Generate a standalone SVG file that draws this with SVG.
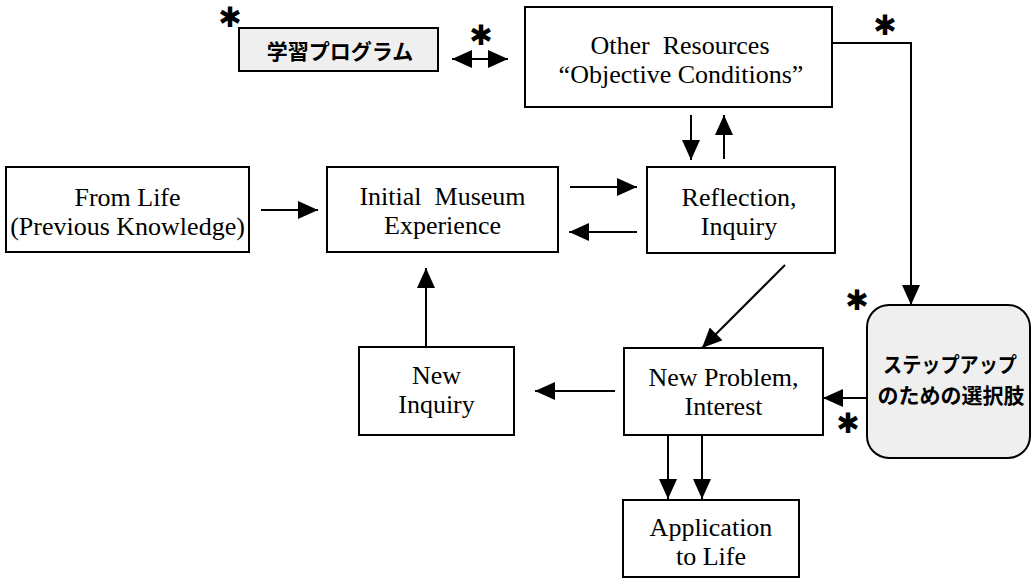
<svg xmlns="http://www.w3.org/2000/svg" width="1032" height="588" viewBox="0 0 1032 588">
<style>
.box{fill:#fff;stroke:#000;stroke-width:2}
.gbox{fill:#efefef;stroke:#000;stroke-width:2}
.t{font-family:"Liberation Serif","Times New Roman",serif;font-size:26px;text-anchor:middle;fill:#000}
.j{font-family:"Noto Sans CJK JP","Noto Sans CJK SC",sans-serif;font-weight:bold;font-size:21px;text-anchor:middle;fill:#000}
.ast{font-family:"DejaVu Sans",sans-serif;font-size:28px;text-anchor:middle;dominant-baseline:central;fill:#000}
.c{fill:none;stroke:#000;stroke-width:2}
</style>
<defs>
<marker id="ah" viewBox="0 0 20 18" markerWidth="20" markerHeight="18" refX="20" refY="9" orient="auto-start-reverse" markerUnits="userSpaceOnUse">
<path d="M0,0 L20,9 L0,18 z" fill="#000"/>
</marker>
</defs>
<rect width="1032" height="588" fill="#fff"/>

<g id="program">
<rect class="gbox" x="239" y="28" width="199" height="43"/>
<text class="j" x="340" y="59" font-size="21">学習プログラム</text>
</g>

<g id="resources">
<rect class="box" x="525" y="7" width="307" height="100"/>
<text class="t" x="680" y="54" font-size="23.5" xml:space="preserve">Other  Resources</text>
<text class="t" x="681" y="83" font-size="23.5">“Objective Conditions”</text>
</g>

<g id="fromlife">
<rect class="box" x="6" y="167" width="243" height="85"/>
<text class="t" x="127.5" y="206">From Life</text>
<text class="t" x="127.5" y="235">(Previous Knowledge)</text>
</g>

<g id="initial">
<rect class="box" x="327" y="167" width="231" height="85"/>
<text class="t" x="442.5" y="205" xml:space="preserve">Initial  Museum</text>
<text class="t" x="442.5" y="234">Experience</text>
</g>

<g id="reflection">
<rect class="box" x="647" y="167" width="188" height="86"/>
<text class="t" x="739" y="206">Reflection,</text>
<text class="t" x="739" y="235">Inquiry</text>
</g>

<g id="newinquiry">
<rect class="box" x="359" y="347" width="155" height="88"/>
<text class="t" x="436.5" y="384">New</text>
<text class="t" x="436.5" y="413">Inquiry</text>
</g>

<g id="newproblem">
<rect class="box" x="624" y="348" width="199" height="87"/>
<text class="t" x="723.5" y="386">New Problem,</text>
<text class="t" x="723.5" y="415">Interest</text>
</g>

<g id="application">
<rect class="box" x="623" y="500" width="176" height="77"/>
<text class="t" x="711" y="536">Application</text>
<text class="t" x="711" y="565">to Life</text>
</g>

<g id="stepup">
<rect class="gbox" x="867" y="305" width="163" height="153" rx="22" ry="22"/>
<text class="j" x="950" y="372" textLength="134" lengthAdjust="spacingAndGlyphs">ステップアップ</text>
<text class="j" x="951" y="403">のための選択肢</text>
</g>

<g id="connectors">
<line class="c" x1="452" y1="59" x2="508" y2="59" marker-start="url(#ah)" marker-end="url(#ah)"/>
<polyline class="c" points="832,43 911,43 911,305" marker-end="url(#ah)"/>
<line class="c" x1="261" y1="210" x2="318" y2="210" marker-end="url(#ah)"/>
<line class="c" x1="570" y1="187" x2="637" y2="187" marker-end="url(#ah)"/>
<line class="c" x1="637" y1="232" x2="569" y2="232" marker-end="url(#ah)"/>
<line class="c" x1="691" y1="115" x2="691" y2="160" marker-end="url(#ah)"/>
<line class="c" x1="724" y1="159" x2="724" y2="115" marker-end="url(#ah)"/>
<line class="c" x1="785" y1="265" x2="702" y2="348" marker-end="url(#ah)"/>
<line class="c" x1="867" y1="398" x2="823" y2="398" marker-end="url(#ah)"/>
<line class="c" x1="615" y1="391" x2="535" y2="391" marker-end="url(#ah)"/>
<line class="c" x1="426" y1="347" x2="426" y2="268" marker-end="url(#ah)"/>
<line class="c" x1="668" y1="435" x2="668" y2="499" marker-end="url(#ah)"/>
<line class="c" x1="702" y1="435" x2="702" y2="499" marker-end="url(#ah)"/>
</g>

<g id="asterisks">
<text class="ast" x="230" y="17">✱</text>
<text class="ast" x="481" y="35">✱</text>
<text class="ast" x="885" y="25">✱</text>
<text class="ast" x="857" y="300">✱</text>
<text class="ast" x="848" y="423">✱</text>
</g>
</svg>
